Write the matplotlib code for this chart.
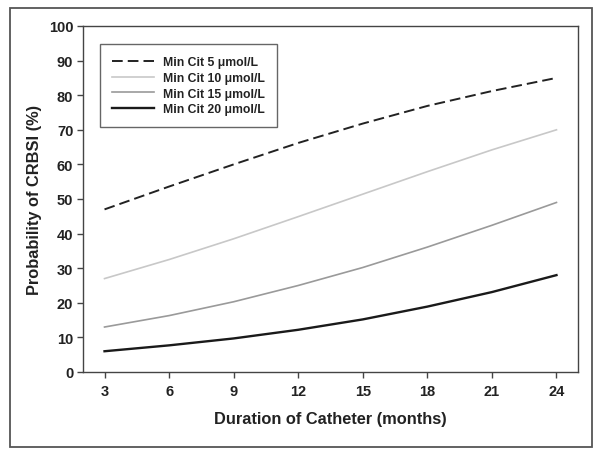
import matplotlib
matplotlib.use('Agg')
import matplotlib.pyplot as plt
from matplotlib.patches import Rectangle

plt.rcParams['font.family'] = ['Liberation Sans', 'DejaVu Sans']

# duration of catheter (months) and probability of CRBSI (%)
months = [3, 6, 9, 12, 15, 18, 21, 24]
cit5 = [47.0, 53.6, 60.0, 66.2, 71.8, 76.9, 81.2, 85.0]
cit10 = [27.0, 32.5, 38.5, 44.9, 51.4, 57.9, 64.2, 70.0]
cit15 = [13.0, 16.3, 20.3, 25.0, 30.2, 36.1, 42.4, 49.0]
cit20 = [6.0, 7.7, 9.7, 12.2, 15.2, 18.9, 23.1, 28.0]

labels = ['Min Cit 5 \u03bcmol/L', 'Min Cit 10 \u03bcmol/L',
          'Min Cit 15 \u03bcmol/L', 'Min Cit 20 \u03bcmol/L']

fig = plt.figure(figsize=(6.01, 4.56), dpi=100)
ax = fig.add_axes([83 / 601, 83 / 456, 495 / 601, 346 / 456])

# outer frame round the whole figure
fig.patches.append(Rectangle((10 / 601, 8 / 456), 582 / 601, 439 / 456,
                             transform=fig.transFigure, fill=False,
                             edgecolor='#555555', linewidth=1.3))

ax.plot(months, cit5, color='#222222', lw=1.4, ls=(0, (5.5, 2.6)), label=labels[0])
ax.plot(months, cit10, color='#c8c8c8', lw=1.2, label=labels[1])
ax.plot(months, cit15, color='#9a9a9a', lw=1.2, label=labels[2])
ax.plot(months, cit20, color='#1a1a1a', lw=1.7, label=labels[3])

ax.set_xlim(2, 25)
ax.set_ylim(0, 100)
ax.set_xticks(months)
ax.set_yticks(range(0, 101, 10))
for s in ax.spines.values():
    s.set_color('#444444')
    s.set_linewidth(1.0)
ax.tick_params(direction='out', length=4, width=1, color='#444444',
               labelsize=10.5)
for t in ax.get_xticklabels() + ax.get_yticklabels():
    t.set_fontweight('bold')
    t.set_color('#222222')
ax.tick_params(axis='x', pad=5)
ax.tick_params(axis='y', pad=3)

ax.set_xlabel('Duration of Catheter (months)', fontsize=11.8, fontweight='bold',
              color='#222222', labelpad=9)
ax.set_ylabel('Probability of CRBSI (%)', fontsize=11.8, fontweight='bold',
              color='#222222', labelpad=5)

leg = ax.legend(loc='upper left', bbox_to_anchor=(0.034, 0.948), borderaxespad=0,
                fancybox=False, framealpha=1, edgecolor='#666666',
                prop={'size': 8.8, 'weight': 'bold'}, handlelength=3.4,
                handletextpad=0.8, borderpad=1.0, labelspacing=0.3)
leg.get_frame().set_linewidth(1.0)
for t in leg.get_texts():
    t.set_color('#222222')

fig.savefig('out.png', dpi=100)
